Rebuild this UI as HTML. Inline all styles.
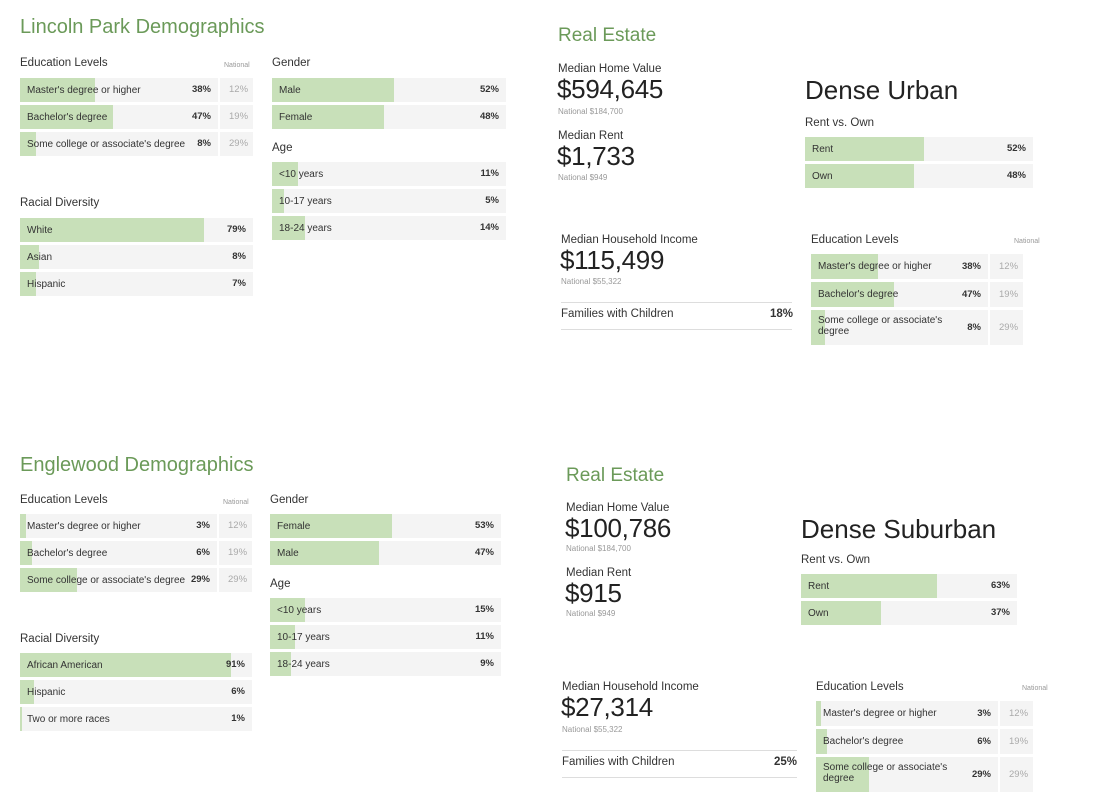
<!DOCTYPE html>
<html><head><meta charset="utf-8">
<style>
body{margin:0;width:1096px;height:805px;background:#fff;position:relative;overflow:hidden;font-family:"Liberation Sans",sans-serif;color:#333}
.a{position:absolute;white-space:nowrap}
.title{font-size:19px;color:#6b9a59}
.h{font-size:11.5px;color:#333}
.big{font-size:26px;color:#222;letter-spacing:-0.3px}
.nat{font-size:8px;color:#999}
.dense{font-size:26px;color:#222}
.row{position:absolute;background:#f4f4f4}
.fill{position:absolute;left:0;top:0;bottom:0;background:#c8e0b9}
.lbl{position:absolute;left:7px;font-size:10px;color:#333;line-height:11px}
.val{position:absolute;font-size:9.5px;font-weight:bold;color:#333}
.nv{position:absolute;font-size:9.5px;color:#aaa}
.natcol{position:absolute;background:#f4f4f4}
.natlbl{font-size:7px;color:#999}
.line{position:absolute;border-top:1px solid #ddd}
</style></head><body>
<div id="root"></div>
<script>
// Data
const lpEduLabels=["Master's degree or higher","Bachelor's degree","Some college or associate's degree"];
const lpEduVals=[38,47,8];
const natEduVals=[12,19,29];
const lpRaceLabels=["White","Asian","Hispanic"];
const lpRaceVals=[79,8,7];
const lpGenderLabels=["Male","Female"];
const lpGenderVals=[52,48];
const lpAgeLabels=["<10 years","10-17 years","18-24 years"];
const lpAgeVals=[11,5,14];
const luRentLabels=["Rent","Own"];
const luRentVals=[52,48];
const luEduLabels=["Master's degree or higher","Bachelor's degree","Some college or associate's degree"];
const luEduVals=[38,47,8];
const egEduVals=[3,6,29];
const egRaceLabels=["African American","Hispanic","Two or more races"];
const egRaceVals=[91,6,1];
const egGenderLabels=["Female","Male"];
const egGenderVals=[53,47];
const egAgeVals=[15,11,9];
const egRentVals=[63,37];
const egEduVals2=[3,6,29];

const root=document.getElementById('root');
function txt(x,y,cls,t,name){
  const d=document.createElement('div');d.className='a '+cls;d.style.left=x+'px';d.style.top=y+'px';d.textContent=t;
  
  
  root.appendChild(d);return d;
}
function group(x,y,mainW,labels,vals,nat,name,heights){
  const natW=nat?35:0;let cy=y;
  labels.forEach((l,i)=>{
    const h=heights?heights[i]:24;
    const r=document.createElement('div');r.className='row';
    r.style.left=x+'px';r.style.top=cy+'px';r.style.width=mainW+'px';r.style.height=h+'px';
    
    
    const f=document.createElement('div');f.className='fill';f.style.width=(mainW*vals[i]/100)+'px';
    
    
    r.appendChild(f);
    const lb=document.createElement('div');lb.className='lbl';lb.textContent=l;lb.style.top=(h>30?5:7)+'px';
    if(h>30){lb.style.whiteSpace='normal';lb.style.width='130px';}
    
    
    r.appendChild(lb);
    const v=document.createElement('div');v.className='val';v.textContent=vals[i]+'%';v.style.right='7px';v.style.top=(h/2-6)+'px';
    
    
    r.appendChild(v);
    root.appendChild(r);
    if(nat){
      const n=document.createElement('div');n.className='natcol';
      n.style.left=(x+mainW+2)+'px';n.style.top=cy+'px';n.style.width=(natW-2)+'px';n.style.height=h+'px';
      
      
      const nv=document.createElement('div');nv.className='nv';nv.textContent=nat[i]+'%';nv.style.left='9px';nv.style.top=(h/2-6)+'px';
      n.appendChild(nv);root.appendChild(n);
    }
    cy+=h+3;
  });
}
// Lincoln Park demographics
txt(20,16,'title','Lincoln Park Demographics','lincoln-park-title').style.fontSize='20px';
txt(20,57,'h','Education Levels','education-header');
txt(224,62,'natlbl','National','national-label');
group(20,78,198,lpEduLabels,lpEduVals,natEduVals,'lp-education');
txt(20,197,'h','Racial Diversity','racial-header');
group(20,218,233,lpRaceLabels,lpRaceVals,null,'lp-race');
txt(272,57,'h','Gender','gender-header');
group(272,78,234,lpGenderLabels,lpGenderVals,null,'lp-gender');
txt(272,142,'h','Age','age-header');
group(272,162,234,lpAgeLabels,lpAgeVals,null,'lp-age');
// Real estate top
txt(558,25,'title','Real Estate','real-estate-title');
txt(558,63,'h','Median Home Value','home-value-label');
txt(557,74,'big','$594,645','home-value');
txt(558,107,'nat','National $184,700','home-value-national');
txt(558,130,'h','Median Rent','rent-label');
txt(557,141,'big','$1,733','rent-value');
txt(558,173,'nat','National $949','rent-national');
txt(805,75,'dense','Dense Urban','density-title');
txt(805,117,'h','Rent vs. Own','rent-own-header');
group(805,137,228,luRentLabels,luRentVals,null,'lp-rent-own');
txt(561,234,'h','Median Household Income','income-label');
txt(560,245,'big','$115,499','income-value');
txt(561,277,'nat','National $55,322','income-national');
(()=>{const l=document.createElement('div');l.className='line';l.style.cssText+='left:561px;top:302px;width:231px;height:26px;border-bottom:1px solid #ddd';root.appendChild(l);})();
txt(561,308,'h','Families with Children','families-label');
txt(770,308,'h','18%','families-value').style.fontWeight='bold';
txt(811,234,'h','Education Levels','re-education-header');
txt(1014,238,'natlbl','National','re-national-label');
group(811,254,177,luEduLabels,luEduVals,natEduVals,'lp-re-education',[25,25,35]);
// Englewood
txt(20,454,'title','Englewood Demographics','englewood-title').style.fontSize='20px';
txt(20,494,'h','Education Levels','eg-education-header');
txt(223,499,'natlbl','National','eg-national-label');
group(20,514,197,lpEduLabels,egEduVals,natEduVals,'eg-education');
txt(20,633,'h','Racial Diversity','eg-racial-header');
group(20,653,232,egRaceLabels,egRaceVals,null,'eg-race');
txt(270,494,'h','Gender','eg-gender-header');
group(270,514,231,egGenderLabels,egGenderVals,null,'eg-gender');
txt(270,578,'h','Age','eg-age-header');
group(270,598,231,lpAgeLabels,egAgeVals,null,'eg-age');
txt(566,465,'title','Real Estate','eg-real-estate-title');
txt(566,502,'h','Median Home Value','eg-home-value-label');
txt(565,513,'big','$100,786','eg-home-value');
txt(566,544,'nat','National $184,700','eg-home-national');
txt(566,567,'h','Median Rent','eg-rent-label');
txt(565,578,'big','$915','eg-rent-value');
txt(566,609,'nat','National $949','eg-rent-national');
txt(801,514,'dense','Dense Suburban','eg-density-title');
txt(801,554,'h','Rent vs. Own','eg-rent-own-header');
group(801,574,216,luRentLabels,egRentVals,null,'eg-rent-own');
txt(562,681,'h','Median Household Income','eg-income-label');
txt(561,692,'big','$27,314','eg-income-value');
txt(562,725,'nat','National $55,322','eg-income-national');
(()=>{const l=document.createElement('div');l.className='line';l.style.cssText+='left:562px;top:750px;width:235px;height:26px;border-bottom:1px solid #ddd';root.appendChild(l);})();
txt(562,756,'h','Families with Children','eg-families-label');
txt(774,756,'h','25%','eg-families-value').style.fontWeight='bold';
txt(816,681,'h','Education Levels','eg-re-education-header');
txt(1022,685,'natlbl','National','eg-re-national-label');
group(816,701,182,luEduLabels,egEduVals2,natEduVals,'eg-re-education',[25,25,35]);
</script>
</body></html>
